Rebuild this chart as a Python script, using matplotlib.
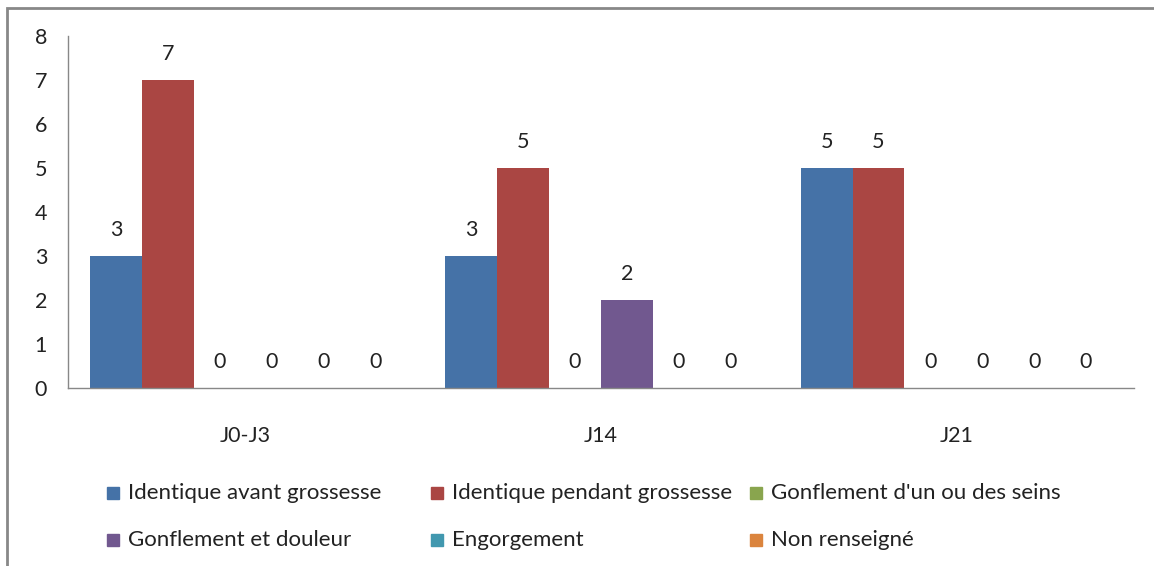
import numpy as np
import matplotlib.pyplot as plt
from matplotlib.patches import Rectangle

plt.rcParams['font.family'] = ['Lato', 'DejaVu Sans']

categories = ['J0-J3', 'J14', 'J21']
series = ['Identique avant grossesse', 'Identique pendant grossesse',
          "Gonflement d'un ou des seins", 'Gonflement et douleur',
          'Engorgement', 'Non renseigné']
values = [
    [3, 3, 5],   # Identique avant grossesse
    [7, 5, 5],   # Identique pendant grossesse
    [0, 0, 0],   # Gonflement d'un ou des seins
    [0, 2, 0],   # Gonflement et douleur
    [0, 0, 0],   # Engorgement
    [0, 0, 0],   # Non renseigné
]
colors = ['#4572A7', '#AA4643', '#89A54E', '#71588F', '#4198AF', '#DB843D']

W, H = 1154, 566
fig = plt.figure(figsize=(W / 100, H / 100), dpi=100)
ax = fig.add_axes([68 / W, 1 - 388 / H, (1134 - 68) / W, (388 - 36) / H])

x = np.arange(len(categories))
bw = 0.146
n = len(series)
for i, (name, vals) in enumerate(zip(series, values)):
    pos = x + (i - (n - 1) / 2) * bw
    bars = ax.bar(pos, vals, bw, color=colors[i], label=name)
    for b, v in zip(bars, vals):
        ax.annotate(str(v), (b.get_x() + b.get_width() / 2, v),
                    xytext=(0, 18.5), textcoords='offset points',
                    ha='center', va='center', fontsize=15.5, color='#222222')

ax.set_xlim(-0.5, 2.5)
ax.set_ylim(0, 8)
ax.set_yticks(range(9))
ax.set_xticks(x)
ax.set_xticklabels(categories)
ax.tick_params(axis='both', length=0, labelsize=15.5, colors='#222222')
ax.tick_params(axis='x', pad=27)
ax.tick_params(axis='y', pad=15)
for s in ['top', 'right']:
    ax.spines[s].set_visible(False)
for s in ['left', 'bottom']:
    ax.spines[s].set_color('#888888')
    ax.spines[s].set_linewidth(1)

# legend, laid out like the original (3 fixed-width columns, 2 rows)
col_x = [107, 431, 750]
row_y = [493, 540]
for i, name in enumerate(series):
    cx = col_x[i % 3]
    cy = row_y[i // 3]
    fig.add_artist(Rectangle((cx / W, 1 - (cy + 6) / H), 12 / W, 12 / H,
                             transform=fig.transFigure, color=colors[i]))
    fig.text((cx + 21) / W, 1 - cy / H, name, ha='left', va='center',
             fontsize=16, color='#222222')

# chart border
fig.add_artist(Rectangle((7 / W, -0.1), 1.2, 1.1 - 8 / H, transform=fig.transFigure,
                         fill=False, edgecolor='#888888', linewidth=2))

fig.savefig('out.png', dpi=100)
